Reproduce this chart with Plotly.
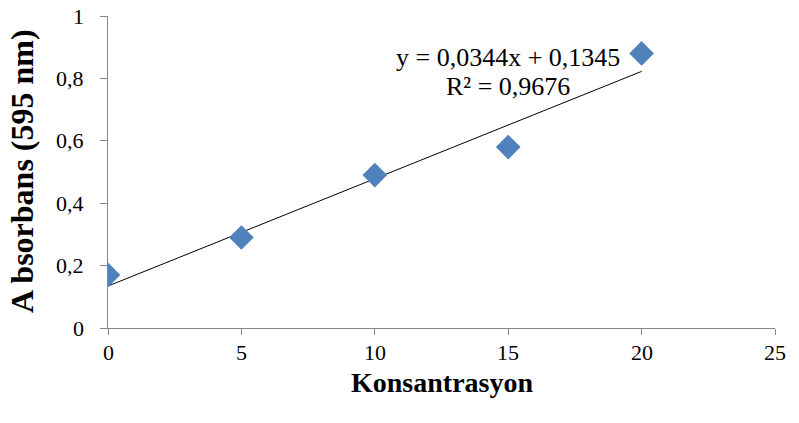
import plotly.graph_objects as go

konsantrasyon = [0, 5, 10, 15, 20]
absorbans = [0.17, 0.29, 0.49, 0.58, 0.88]
slope = 0.0344
intercept = 0.1345
r2_text = "0,9676"
x_ticks = [0, 5, 10, 15, 20, 25]
x_tick_labels = ["0", "5", "10", "15", "20", "25"]
y_ticks = [0, 0.2, 0.4, 0.6, 0.8, 1]
y_tick_labels = ["0", "0,2", "0,4", "0,6", "0,8", "1"]

trend_x = [konsantrasyon[0], konsantrasyon[-1]]
trend_y = [slope * x + intercept for x in trend_x]

FONT = "Liberation Serif"
W, H = 799, 423
ML, MR, MT, MB = 108, 24, 16, 95
PH = H - MT - MB
PW = W - ML - MR


def py(pix):
    """pixel row from top -> paper y"""
    return (H - MB - pix) / PH


def px(pix):
    """pixel column from left -> paper x"""
    return (pix - ML) / PW


fig = go.Figure()
fig.add_trace(go.Scatter(x=trend_x, y=trend_y, mode="lines",
                         line=dict(color="black", width=1), showlegend=False))
fig.add_trace(go.Scatter(x=konsantrasyon, y=absorbans, mode="markers",
                         marker=dict(symbol="diamond", size=19, color="#4F81BD",
                                     line=dict(width=0)),
                         showlegend=False))

# trendline equation
fig.add_annotation(x=15.0, y=py(58), xref="x", yref="paper", yanchor="middle",
                   text="y = 0,0344x + 0,1345", showarrow=False,
                   font=dict(family=FONT, size=26, color="black"))
fig.add_annotation(x=15.0, y=py(87), xref="x", yref="paper", yanchor="middle",
                   text="R² = " + r2_text, showarrow=False,
                   font=dict(family=FONT, size=26, color="black"))

# tick labels
for v, t in zip(x_ticks, x_tick_labels):
    fig.add_annotation(x=v, y=py(352), xref="x", yref="paper", yanchor="middle",
                       text=t, showarrow=False,
                       font=dict(family=FONT, size=22, color="black"))
for v, t in zip(y_ticks, y_tick_labels):
    fig.add_annotation(x=px(86), y=v, xref="paper", yref="y",
                       xanchor="right", yanchor="middle",
                       text=t, showarrow=False,
                       font=dict(family=FONT, size=22, color="black"))

# axis titles
fig.add_annotation(x=0.5, y=py(382), xref="paper", yref="paper", yanchor="middle",
                   text="<b>Konsantrasyon</b>", showarrow=False,
                   font=dict(family=FONT, size=28, color="black"))
fig.add_annotation(x=px(22), y=py(171), xref="paper", yref="paper",
                   xanchor="center", yanchor="middle", textangle=-90,
                   text="<b>A bsorbans (595 nm)</b>", showarrow=False,
                   font=dict(family=FONT, size=32, color="black"))

fig.update_layout(
    width=W, height=H,
    margin=dict(l=ML, r=MR, t=MT, b=MB, autoexpand=False),
    plot_bgcolor="white", paper_bgcolor="white",
    font=dict(family=FONT, color="black"),
    xaxis=dict(range=[0, 25], tickvals=x_ticks, showticklabels=False, showgrid=False,
               zeroline=False, automargin=False,
               showline=True, linecolor="#868686", linewidth=1,
               ticks="outside", ticklen=6, tickcolor="#868686"),
    yaxis=dict(range=[0, 1], tickvals=y_ticks, showticklabels=False, showgrid=False,
               zeroline=False, automargin=False,
               showline=True, linecolor="#868686", linewidth=1,
               ticks="outside", ticklen=7, tickcolor="#868686"),
)

fig.write_html("out.html")
